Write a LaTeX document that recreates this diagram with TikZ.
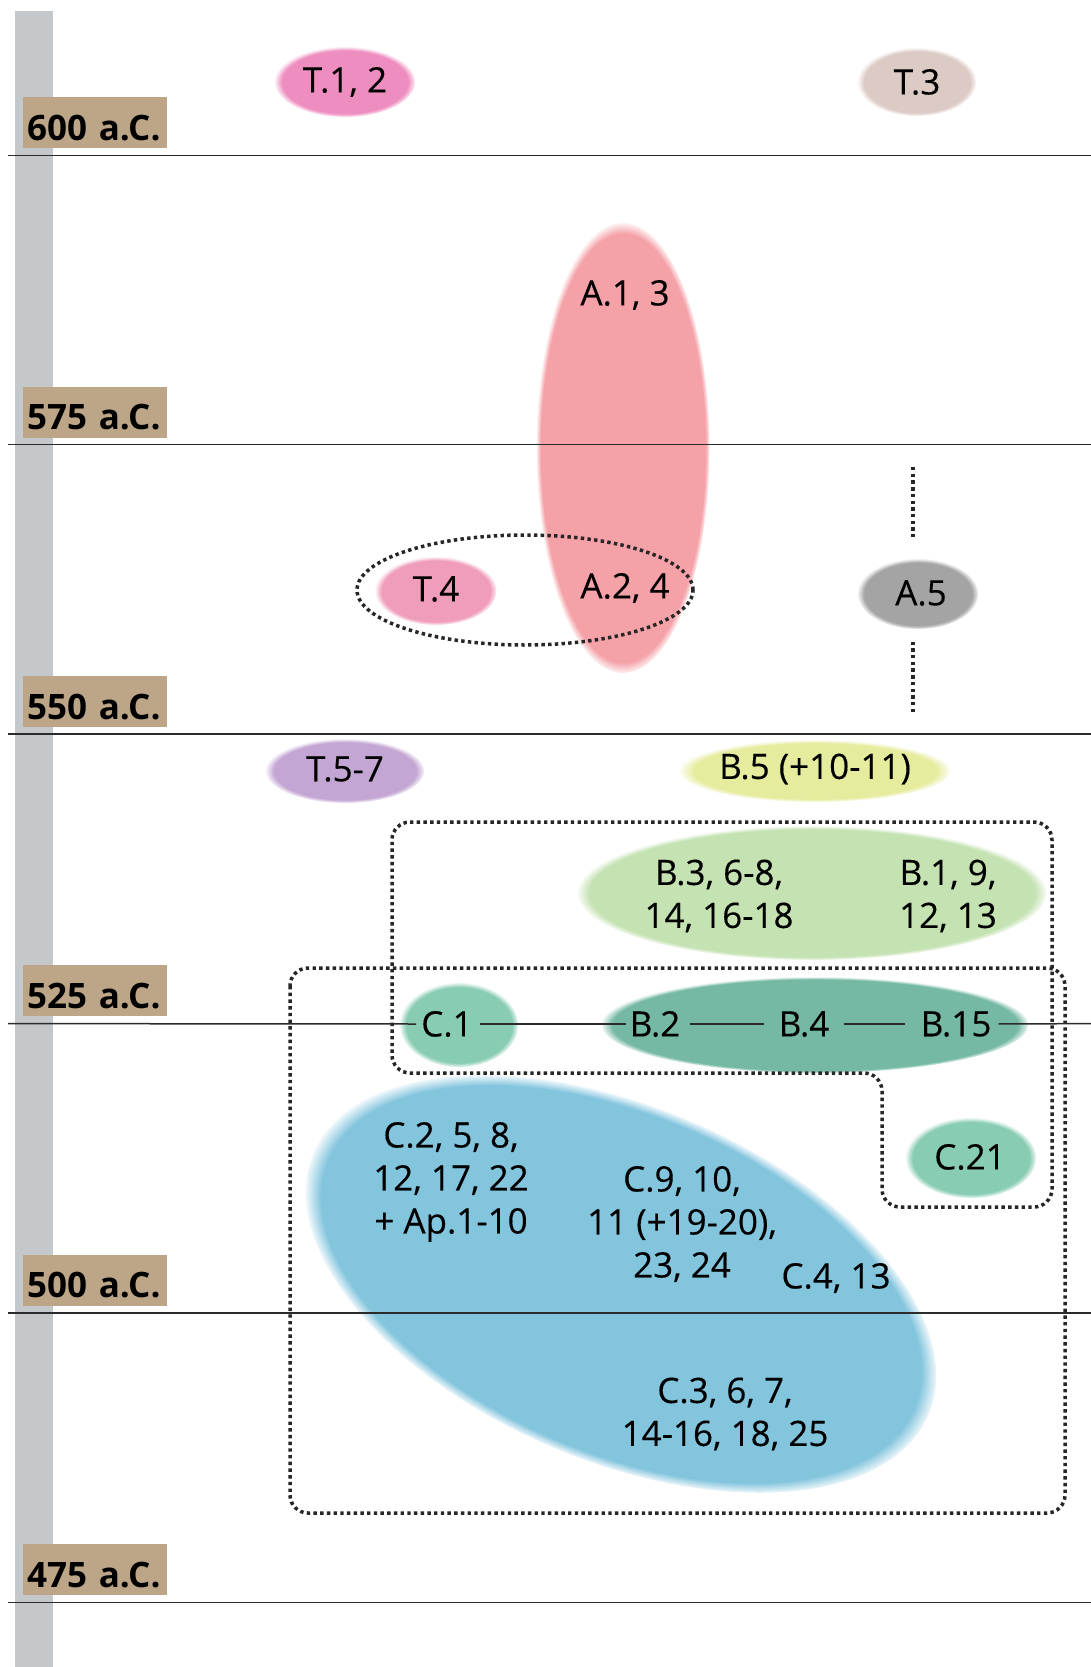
\documentclass[tikz,border=0pt]{standalone}
\usepackage{fontspec}
\setmainfont{Open Sans}
\newfontfamily\lblfont{Open Sans}[FakeBold=0.3]
\usetikzlibrary{shapes.geometric}
\definecolor{barcol}{HTML}{C5C8CA}
\definecolor{tancol}{HTML}{BDA587}
\definecolor{pinkT}{HTML}{EE8DBF}
\definecolor{taupe}{HTML}{DCCAC5}
\definecolor{pinkA}{HTML}{F4A1A7}
\definecolor{pinkTf}{HTML}{F09DBB}
\definecolor{grayA}{HTML}{A4A4A4}
\definecolor{purp}{HTML}{C3A6D3}
\definecolor{yellg}{HTML}{E6EC9E}
\definecolor{greenB}{HTML}{C4E2B2}
\definecolor{mint}{HTML}{88CCB3}
\definecolor{tealB}{HTML}{75B9A4}
\definecolor{cblue}{HTML}{84C5DE}
\definecolor{linecol}{HTML}{2B2B2B}
\colorlet{softc}{white}
\pgfdeclareradialshading[softc]{softshade}{\pgfpoint{0bp}{0bp}}{color(0bp)=(softc); color(22.5bp)=(softc); color(25bp)=(softc!15!white); color(50bp)=(white)}
\pgfdeclareradialshading[softc]{softshadeL}{\pgfpoint{0bp}{0bp}}{color(0bp)=(softc); color(23.8bp)=(softc); color(25bp)=(softc!15!white); color(50bp)=(white)}
\tikzset{
  soft/.style={ellipse, inner sep=0pt, outer sep=0pt, /utils/exec={\colorlet{softc}{#1}}, shade, shading=softshade},
  softL/.style={ellipse, inner sep=0pt, outer sep=0pt, /utils/exec={\colorlet{softc}{#1}}, shade, shading=softshadeL},
  lbl/.style={font=\lblfont\fontsize{35}{43}\selectfont, align=center, inner sep=0pt, text=black},
  yearbox/.style={fill=tancol, anchor=south west, minimum height=51pt, text width=136pt, inner xsep=4pt, inner ysep=0pt, align=left, text height=35pt, text depth=0pt, font=\bfseries\fontsize{35}{40}\selectfont},
  hline/.style={line width=1.5pt, draw=linecol},
  dotline/.style={line width=3.5pt, dash pattern=on 3.4pt off 3.3pt, draw=black!85},
}
\begin{document}
\begin{tikzpicture}[x=1pt,y=-1pt]
\useasboundingbox (0,0) rectangle (1091,1667);
\fill[white] (0,0) rectangle (1091,1667);
% time bar
\fill[barcol] (15,11) rectangle (53,1667);

% ellipses
\node[soft=pinkT, minimum width=140pt, minimum height=70pt] (eT12) at (345,82) {};
\node[soft=taupe, minimum width=118pt, minimum height=68pt] (eT3) at (917,82) {};
\node[softL=pinkA, minimum width=173pt, minimum height=450pt] (eA) at (623,448) {};
\node[soft=pinkTf, minimum width=121pt, minimum height=68pt] (eT4) at (436,591) {};
\node[soft=grayA, minimum width=120pt, minimum height=70pt] (A5) at (918,594) {};
\node[soft=purp, minimum width=158pt, minimum height=64pt] (eT57) at (345,771) {};
\node[soft=yellg, minimum width=270pt, minimum height=62pt] (eB5) at (815,771) {};
\node[softL=greenB, minimum width=468pt, minimum height=134pt] (eB3) at (812,893) {};
\node[soft=mint, minimum width=118pt, minimum height=84pt] (eC1) at (459,1025) {};
\node[softL=tealB, minimum width=426pt, minimum height=96pt] (eB2) at (815,1025) {};
\node[soft=mint, minimum width=130pt, minimum height=80pt] (eC21) at (971,1158) {};
\begin{scope}[transform canvas={shift={(621,1284)}, rotate=-23}]
\node[softL=cblue, minimum width=668pt, minimum height=354pt] (eCbl) at (0,0) {};
\end{scope}

% horizontal time lines
\draw[hline] (8,155.3) -- (1091,155.3);
\draw[hline] (8,444.7) -- (1091,444.7);
\draw[hline] (8,734.2) -- (1091,734.2);
\draw[hline] (8,1313.1) -- (1091,1313.1);
\draw[hline] (8,1602.5) -- (1091,1602.5);

% dotted groupings
\node[draw, dotline, ellipse, minimum width=336pt, minimum height=110pt, inner sep=0pt] (grpT4) at (525,590) {};
\draw[dotline, rounded corners=18pt] (392,822) -- (1052,822) -- (1052,1207) -- (882,1207) -- (882,1073) -- (392,1073) -- cycle;
\draw[dotline, rounded corners=18pt] (290,968) rectangle (1065,1513);
\coordinate (a5up) at (913,467);
\coordinate (a5dn) at (913,712);
\draw[dotline, shorten >=19pt] (a5up) -- (A5.north -| a5up);
\draw[dotline, shorten >=13pt] (a5dn) -- (A5.south -| a5dn);

% texts
\node[lbl] (tT12) at (345,82) {T.1, 2};
\node[lbl] (tT3) at (917,82) {T.3};
\node[lbl] (tA13) at (625,295) {A.1, 3};
\node[lbl] (tA24) at (625,588) {A.2, 4};
\node[lbl] (tT4) at (436,589) {T.4};
\node[lbl] (tA5) at (921,593) {A.5};
\node[lbl] (tT57) at (345,769) {T.5-7};
\node[lbl] (tB5) at (815,769) {B.5 (+10-11)};
\node[lbl] (tB3) at (719,896) {B.3, 6-8,\\14, 16-18};
\node[lbl] (tB1) at (948,896) {B.1, 9,\\12, 13};
\node[lbl] (tC1) at (447,1024) {C.1};
\node[lbl] (tB2) at (655,1024) {B.2};
\node[lbl] (tB4) at (804,1024) {B.4};
\node[lbl] (tB15) at (956,1024) {B.15};
\node[lbl] (tC21) at (970,1157) {C.21};
\node[lbl] (tC2) at (451,1182) {C.2, 5, 8,\\12, 17, 22\\+ Ap.1-10};
\node[lbl] (tC9) at (682,1224) {C.9, 10,\\11 (+19-20),\\23, 24};
\node[lbl] (tC4) at (836,1278) {C.4, 13};
\node[lbl] (tC3) at (725,1414) {C.3, 6, 7,\\14-16, 18, 25};

% 525 line broken by labels
\coordinate (L4a) at (8,1023.6);
\coordinate (L4b) at (1091,1023.6);
\draw[hline, shorten >=5pt] (L4a) -- (tC1.west);
\draw[hline, shorten <=7pt, shorten >=4pt] (tC1.east) -- (tB2.west);
\draw[hline, shorten <=9pt, shorten >=15pt] (tB2.east) -- (tB4.west);
\draw[hline, shorten <=14pt, shorten >=16pt] (tB4.east) -- (tB15.west);
\draw[hline, shorten <=7pt] (tB15.east) -- (L4b);

% year labels
\node[yearbox] (y600) at (23,148.3) {600 a.C.};
\node[yearbox] (y575) at (23,437.7) {575 a.C.};
\node[yearbox] (y550) at (23,727.2) {550 a.C.};
\node[yearbox] (y525) at (23,1016.6) {525 a.C.};
\node[yearbox] (y500) at (23,1306.1) {500 a.C.};
\node[yearbox] (y475) at (23,1595.5) {475 a.C.};
\end{tikzpicture}
\end{document}
